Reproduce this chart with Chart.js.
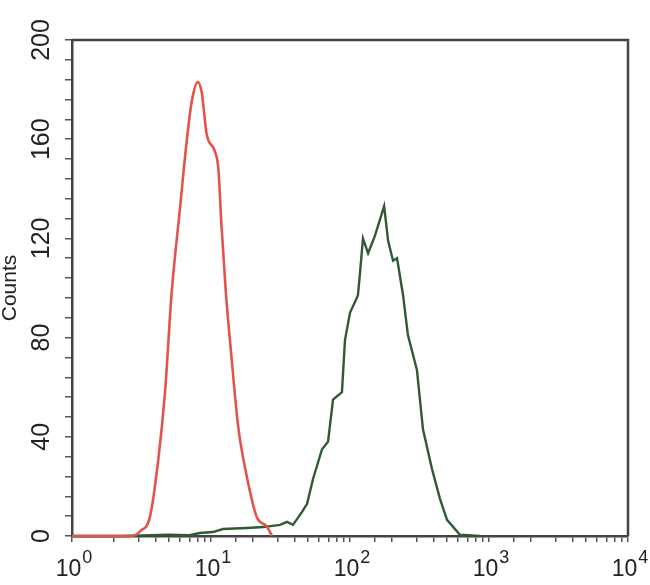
<!DOCTYPE html>
<html>
<head>
<meta charset="utf-8">
<script src="https://cdn.jsdelivr.net/npm/chart.js@4.4.1/dist/chart.umd.min.js"></script>
<style>
  html, body { margin: 0; padding: 0; background: #fff; }
  canvas { display: block; }
</style>
</head>
<body>
<canvas id="histChart" width="650" height="585"></canvas>
<script>
// fluorescence intensity (log axis) and counts
const redX = [1, 2.69, 3.1, 3.64, 4.18, 4.67, 5.21, 5.98, 6.68, 7.26, 8.02, 8.57, 9.31, 10.69, 11.3, 11.9, 12.8, 14.1, 15.7, 18.1, 21.3, 25.2, 27.5];
const redY = [0, 0, 2, 7.8, 31, 58, 98, 132, 159, 175, 183, 179, 162, 155, 148, 125, 98, 71, 44, 24, 7.8, 3.8, 0];

const greenX = [1, 2.3, 5, 7, 8.3, 10.3, 12.2, 18.2, 23.7, 31.4, 35.2, 38.9, 45.2, 49.1, 54.2, 62.9, 69.5, 75.5, 87.5, 92, 100, 114, 118, 124, 135, 151, 176, 188, 204, 218, 241, 261, 303, 335, 389, 444, 499, 618, 861];
const greenY = [0, 0, 0.5, 0.3, 1.2, 1.6, 2.8, 3.2, 3.6, 4.5, 5.7, 4.5, 9.7, 13, 23, 35, 38, 55, 58, 79, 90, 97, 106, 120, 114, 121, 133, 119, 111, 112, 97, 81, 67, 43, 27, 15, 6.5, 0.5, 0];

// axis labels
const xTickValues = [1, 10, 100, 1000, 10000];
const xTickExps = ['0', '1', '2', '3', '4'];
const yTickStep = 8;
const yLabelStep = 40;

const axisColor = '#444';
const tickColor = '#555';
const textColor = '#222';
const fontFamily = '"Liberation Sans", Arial, sans-serif';

function toPoints(xs, ys) {
  return xs.map((x, i) => ({ x: x, y: ys[i] }));
}

// top and right edge of the plot box
const frame = {
  id: 'frame',
  afterDraw(chart) {
    const { ctx, chartArea: a } = chart;
    ctx.save();
    ctx.strokeStyle = axisColor;
    ctx.lineWidth = 2.5;
    ctx.beginPath();
    ctx.moveTo(a.left, a.top);
    ctx.lineTo(a.right, a.top);
    ctx.lineTo(a.right, a.bottom);
    ctx.stroke();
    ctx.restore();
  }
};

// decade labels as 10 with a raised exponent
const decadeLabels = {
  id: 'decadeLabels',
  afterDraw(chart) {
    const { ctx } = chart;
    const xs = chart.scales.x;
    const baseY = xs.top + 40;
    const supY = baseY - 13;
    ctx.save();
    ctx.fillStyle = textColor;
    ctx.textBaseline = 'alphabetic';
    ctx.textAlign = 'left';
    xTickValues.forEach((v, i) => {
      const px = xs.getPixelForValue(v);
      ctx.font = `23px ${fontFamily}`;
      const wBase = ctx.measureText('10').width;
      ctx.font = `18px ${fontFamily}`;
      const wExp = ctx.measureText(xTickExps[i]).width;
      const start = px + 2 - (wBase + 1 + wExp) / 2;
      ctx.font = `23px ${fontFamily}`;
      ctx.fillText('10', start, baseY);
      ctx.font = `18px ${fontFamily}`;
      ctx.fillText(xTickExps[i], start + wBase + 1, supY);
    });
    ctx.restore();
  }
};

const ctx = document.getElementById('histChart').getContext('2d');
new Chart(ctx, {
  type: 'line',
  data: {
    datasets: [
      {
        label: 'control',
        data: toPoints(redX, redY),
        borderColor: '#e4534b',
        borderWidth: 2.6,
        pointRadius: 0,
        cubicInterpolationMode: 'monotone',
        clip: false
      },
      {
        label: 'sample',
        data: toPoints(greenX, greenY),
        borderColor: '#2f5a34',
        borderWidth: 2.4,
        pointRadius: 0,
        tension: 0,
        clip: false
      }
    ]
  },
  options: {
    responsive: false,
    animation: false,
    layout: { padding: { left: 0, top: 40, right: 22, bottom: 0 } },
    plugins: {
      legend: { display: false },
      tooltip: { enabled: false }
    },
    scales: {
      x: {
        type: 'logarithmic',
        min: 1,
        max: 10000,
        afterFit(scale) { scale.height = 49; },
        border: { display: true, color: axisColor, width: 2.5 },
        grid: {
          drawOnChartArea: false,
          drawTicks: true,
          tickLength: 6,
          color: tickColor,
          lineWidth: 1.5
        },
        ticks: {
          display: false,
          autoSkip: false
        }
      },
      y: {
        min: 0,
        max: 200,
        afterFit(scale) { scale.width = 72; },
        border: { display: true, color: axisColor, width: 2.5 },
        grid: {
          drawOnChartArea: false,
          drawTicks: true,
          tickLength: 7,
          color: tickColor,
          lineWidth: 1.5
        },
        title: {
          display: true,
          text: 'Counts',
          color: textColor,
          padding: { top: -2, bottom: 0 },
          font: { family: fontFamily, size: 21 }
        },
        ticks: {
          stepSize: yTickStep,
          autoSkip: false,
          minRotation: 90,
          maxRotation: 90,
          crossAlign: 'center',
          padding: 2,
          color: textColor,
          font: { family: fontFamily, size: 25 },
          callback(v) {
            return v % yLabelStep === 0 ? String(v) : '';
          }
        }
      }
    }
  },
  plugins: [frame, decadeLabels]
});
</script>
</body>
</html>
